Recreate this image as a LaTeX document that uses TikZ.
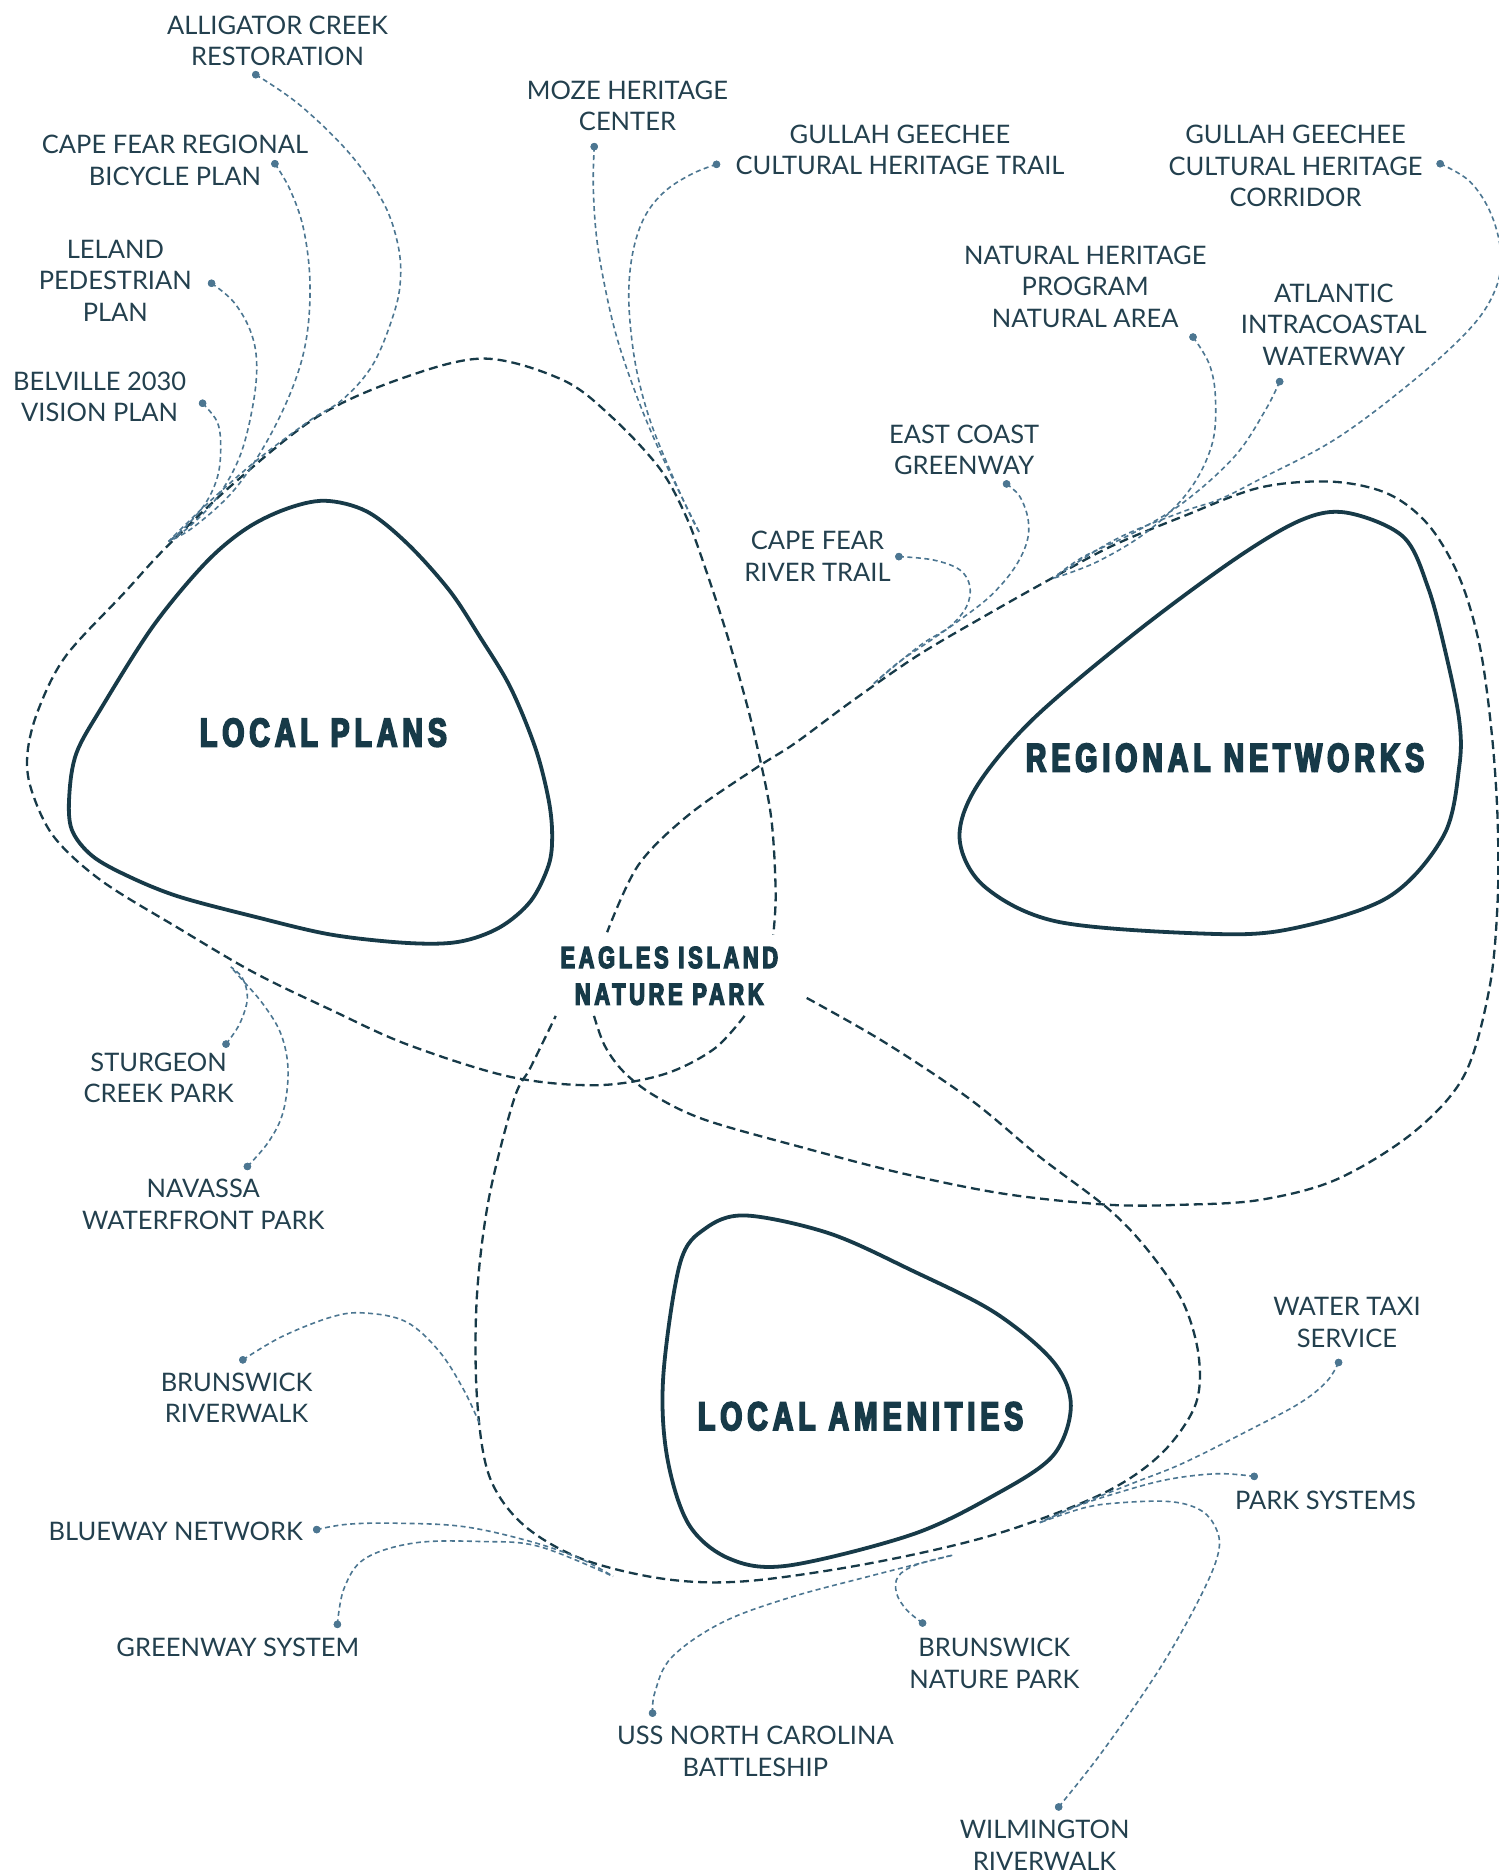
\documentclass[tikz,border=0pt]{standalone}
\usepackage{fontspec}
\setmainfont{Lato}
\newfontfamily\titlefont{Liberation Sans Bold}[FakeStretch=0.71,LetterSpace=12.5,FakeBold=4.5]
\definecolor{ink}{RGB}{23,58,72}
\definecolor{labelc}{RGB}{35,64,78}
\definecolor{linkc}{RGB}{76,118,145}
\tikzset{
  blob/.style={draw=ink, line width=3.8pt, line join=round},
  loopline/.style={draw=ink, line width=2.3pt, dash pattern=on 9pt off 5pt},
  link/.style={draw=linkc, line width=1.6pt, dash pattern=on 5pt off 3.5pt},
  pin/.style={circle, fill=linkc, inner sep=0pt, minimum size=7.5pt},
  lbl/.style={font=\fontsize{25.5}{31.6}\selectfont, text=labelc, align=center, inner sep=0pt},
  ttl/.style={font=\titlefont\fontsize{40}{46}\selectfont, text=ink, inner sep=0pt},
  ttlsmall/.style={font=\titlefont\fontsize{30.5}{36.7}\selectfont, text=ink, align=center, inner sep=0pt},
}
\begin{document}
\begin{tikzpicture}[x=1.1954pt, y=-1.1954pt]
\useasboundingbox (0,0) rectangle (1254,1568);

% ---------- core blobs ----------
\draw[blob] plot[smooth cycle, tension=0.55] coordinates {
  (272,419) (307,428) (341,455) (376,494) (401,532) (427,575) (448,626)
  (459,669) (462,699) (459,724) (444,754) (418,776) (384,788) (341,789)
  (277,782) (213,767) (149,750) (107,733) (77,716) (60,694) (58,665)
  (64,630) (85,592) (128,524) (171,472) (205,443) (239,426)};
\draw[blob] plot[smooth cycle, tension=0.55] coordinates {
  (1127,429) (1174,449) (1195,492) (1210,548) (1221,603) (1221,641)
  (1208,699) (1161,751) (1076,778) (1003,781) (884,771) (824,742)
  (803,703) (816,660) (863,603) (948,531) (1033,468) (1089,435)};
\draw[blob] plot[smooth cycle, tension=0.55] coordinates {
  (624,1017) (694,1032) (763,1063) (832,1098) (881,1139) (896,1176)
  (881,1218) (832,1251) (763,1284) (659,1310) (610,1304) (576,1275)
  (558,1218) (555,1151) (569,1057) (590,1028)};

% ---------- titles ----------
\node[ttl] (tLocal) at (270.6,613) {LOCAL PLANS};
\node[ttl] (tRegional) at (1025,634) {REGIONAL NETWORKS};
\node[ttl] (tAmenities) at (720,1185) {LOCAL AMENITIES};
\node[ttlsmall] (tEagles) at (560,816.5) {EAGLES ISLAND\\NATURE PARK};

% ---------- dashed loops around the park ----------
\draw[loopline] plot[smooth, tension=0.55] coordinates {
  (623,850) (597,878) (555,899) (499,908) (427,901) (341,874) (277,845)
  (213,814) (150,777) (85,737) (45,700) (26,660) (23,630) (32,594)
  (55,549) (104,496) (139,458) (195,405) (265,349) (335,317) (405,300)
  (471,318) (512,349) (552,392) (574,432) (590,475) (608,530) (621,575)
  (632,618) (645,682) (649,746) (647,782)};
\draw[loopline] plot[smooth, tension=0.55] coordinates {
  (497,850) (506,875) (522,897) (548,917) (590,937) (671,960) (756,982)
  (841,999) (927,1008) (990,1008) (1054,1004) (1118,987) (1182,948)
  (1225,900) (1246,828) (1253,756) (1253,684) (1248,612) (1238,540)
  (1221,483) (1195,439) (1161,413) (1114,403) (1054,408) (990,432)
  (930,457) (878,485) (823,516) (767,549) (711,588) (665,622) (632,643)
  (576,682) (534,724) (508,780)};
\draw[loopline] plot[smooth, tension=0.55] coordinates {
  (675,835) (740,872) (812,920) (870,968) (928,1012) (962,1048)
  (990,1090) (1003,1135) (1000,1176) (971,1217) (922,1250) (832,1284)
  (728,1308) (624,1323) (555,1321) (486,1304) (437,1275) (409,1234)
  (399,1168) (399,1085) (409,1003) (430,920) (444,893) (465,850)};

% ---------- where the links meet the loops ----------
\coordinate (jNW) at (141,453);
\coordinate (jTop) at (586,447);
\coordinate (jNE) at (881,484);
\coordinate (jMid) at (731,572);
\coordinate (jSW) at (193,809);
\coordinate (jRiver) at (402,1193);
\coordinate (jWest) at (513,1319);
\coordinate (jEast) at (870,1274);
\coordinate (jSouth) at (798,1301);

% ---------- label pins ----------
\node[pin] (pAlligator) at (214,62.5) {};
\node[pin] (pBicycle) at (230,137) {};
\node[pin] (pLeland) at (177,237) {};
\node[pin] (pBelville) at (169.5,337.4) {};
\node[pin] (pMoze) at (497.2,122.7) {};
\node[pin] (pTrail) at (599.5,137.5) {};
\node[pin] (pCorridor) at (1205,137) {};
\node[pin] (pNatural) at (998.2,282) {};
\node[pin] (pAtlantic) at (1070.7,319.3) {};
\node[pin] (pEastCoast) at (842.2,404.9) {};
\node[pin] (pRiverTrail) at (752.1,465.7) {};
\node[pin] (pSturgeon) at (189.1,873.6) {};
\node[pin] (pNavassa) at (207,976) {};
\node[pin] (pBrRiver) at (203.2,1137.8) {};
\node[pin] (pBlueway) at (265,1279.8) {};
\node[pin] (pGreenway) at (282.3,1359.1) {};
\node[pin] (pTaxi) at (1120,1140) {};
\node[pin] (pParks) at (1049.4,1235.3) {};
\node[pin] (pBrNature) at (771.9,1358) {};
\node[pin] (pUSS) at (546,1433.4) {};
\node[pin] (pWilm) at (885.8,1511.9) {};

% ---------- links ----------
\draw[link] plot[smooth, tension=0.6] coordinates {(pAlligator.center) (251,88) (293,129)
  (321,170) (333,205) (335,235) (329,264) (312,305) (287,334) (259,352)
  (215,385) (175,420) (jNW)};
\draw[link] plot[smooth, tension=0.6] coordinates {(pBicycle.center) (242.6,158.5)
  (253.8,190.7) (259.3,234.7) (256.6,281.7) (245.4,322.8) (223.1,369.7)
  (195.2,410.8) (162,441) (jNW)};
\draw[link] plot[smooth, tension=0.6] coordinates {(pLeland.center) (195.2,252.3)
  (209.1,275.8) (214.7,302.2) (211.9,337.4) (200.8,381.5) (181.3,416.7)
  (158,441) (jNW)};
\draw[link] plot[smooth, tension=0.6] coordinates {(pBelville.center) (181.3,352.1)
  (184.6,369.7) (182.7,396.1) (172.9,419.6) (156,440) (jNW)};
\draw[link] plot[smooth, tension=0.6] coordinates {(pMoze.center) (496.4,156.2)
  (499.1,198) (506.1,239.8) (515.9,281.6) (529.8,323.5) (546.5,365.3)
  (566.1,407.1) (jTop)};
\draw[link] plot[smooth, tension=0.6] coordinates {(pTrail.center) (580,145)
  (557.7,158.9) (541,178.5) (531.2,203.6) (526.5,234.2) (527,267.7)
  (532.6,309.5) (543.8,351.4) (560.5,393.2) (578,432) (jTop)};
\draw[link] plot[smooth, tension=0.6] coordinates {(pCorridor.center) (1230,152)
  (1248,180) (1256,215) (1250,245) (1229,276) (1182,319) (1118,367)
  (1054,401) (1020,418) (990,428) (934,451) (jNE)};
\draw[link] plot[smooth, tension=0.6] coordinates {(pNatural.center) (1011.9,304.9)
  (1017,333.7) (1014,372.1) (994.8,410.6) (960.7,444.2) (918.1,470) (jNE)};
\draw[link] plot[smooth, tension=0.6] coordinates {(pAtlantic.center) (1058.7,343.3)
  (1033.2,381.7) (990.5,420.2) (948.1,446) (906.3,466) (jNE)};
\draw[link] plot[smooth, tension=0.6] coordinates {(pEastCoast.center) (853.3,415.5)
  (860.3,435) (858.9,454.5) (847.7,476.8) (828.2,499.1) (803.1,518.7)
  (775.2,538.2) (752,554) (jMid)};
\draw[link] plot[smooth, tension=0.6] coordinates {(pRiverTrail.center) (780.8,468.5)
  (803.1,476.8) (811.5,490.8) (808.7,507.5) (794.8,524.2) (772.4,538.2)
  (750,556) (jMid)};
\draw[link] plot[smooth, tension=0.6] coordinates {(pSturgeon.center) (200.6,856.5)
  (207,835.2) (202.7,818.1) (jSW)};
\draw[link] plot[smooth, tension=0.6] coordinates {(pNavassa.center) (225,955)
  (237,930) (241,895) (235,865) (220,840) (201,818) (jSW)};
\draw[link] plot[smooth, tension=0.6] coordinates {(pBrRiver.center) (235.8,1118.4)
  (277.5,1101.9) (305.2,1098.6) (339.9,1106) (367.6,1130.8) (388.5,1163.8)
  (jRiver)};
\draw[link] plot[smooth, tension=0.6] coordinates {(pBlueway.center) (291.3,1275.3)
  (333,1274.5) (388.5,1277.4) (444,1289.8) (485.6,1304.2) (jWest)};
\draw[link] plot[smooth, tension=0.6] coordinates {(pGreenway.center) (287.9,1329)
  (305.2,1304.2) (346.8,1291) (402.3,1289.8) (450.9,1293.9) (jWest)};
\draw[link] plot[smooth, tension=0.6] coordinates {(pTaxi.center) (1110,1156)
  (1087.5,1174) (1045.7,1196.3) (990,1224.2) (948.1,1240.9) (906.3,1257.6)
  (jEast)};
\draw[link] plot[smooth, tension=0.6] coordinates {(pParks.center) (1017.9,1233.1)
  (976,1238.1) (934.2,1249.3) (900.7,1260.4) (jEast)};
\draw[link] plot[smooth, tension=0.6] coordinates {(pWilm.center) (922.6,1465.2)
  (971.1,1395) (1005.8,1333.1) (1020,1296) (1015.1,1274.4) (1001.1,1261.8)
  (976,1256.2) (934.2,1257.6) (906.3,1261.8) (jEast)};
\draw[link] plot[smooth, tension=0.6] coordinates {(pBrNature.center) (758.5,1346.9)
  (750.1,1332.9) (751.5,1319) (766.9,1309.2) (jSouth)};
\draw[link] plot[smooth, tension=0.6] coordinates {(pUSS.center) (548,1415.7)
  (561.9,1386.8) (603.5,1357.9) (659,1337.2) (728.4,1318.6) (jSouth)};

% pins sit on top of the link ends
\foreach \p in {pAlligator,pBicycle,pLeland,pBelville,pMoze,pTrail,pCorridor,
  pNatural,pAtlantic,pEastCoast,pRiverTrail,pSturgeon,pNavassa,pBrRiver,
  pBlueway,pGreenway,pTaxi,pParks,pBrNature,pUSS,pWilm}
  \fill[linkc] (\p.center) circle[radius=3.75pt];

% ---------- labels ----------
\node[lbl] (lAlligator) at (232.2,34.2) {ALLIGATOR CREEK\\RESTORATION};
\node[lbl] (lBicycle) at (146.4,134) {CAPE FEAR REGIONAL\\BICYCLE PLAN};
\node[lbl] (lLeland) at (96.5,234.9) {LELAND\\PEDESTRIAN\\PLAN};
\node[lbl] (lBelville) at (83.4,331.9) {BELVILLE 2030\\VISION PLAN};
\node[lbl] (lMoze) at (525,88.5) {MOZE HERITAGE\\CENTER};
\node[lbl] (lTrail) at (753,125.5) {GULLAH GEECHEE\\CULTURAL HERITAGE TRAIL};
\node[lbl] (lCorridor) at (1084,139) {GULLAH GEECHEE\\CULTURAL HERITAGE\\CORRIDOR};
\node[lbl] (lNatural) at (908,240) {NATURAL HERITAGE\\PROGRAM\\NATURAL AREA};
\node[lbl] (lAtlantic) at (1116,271.5) {ATLANTIC\\INTRACOASTAL\\WATERWAY};
\node[lbl] (lEastCoast) at (806.7,376.5) {EAST COAST\\GREENWAY};
\node[lbl] (lRiverTrail) at (684,465.5) {CAPE FEAR\\RIVER TRAIL};
\node[lbl] (lSturgeon) at (132.7,902) {STURGEON\\CREEK PARK};
\node[lbl] (lNavassa) at (170,1007.5) {NAVASSA\\WATERFRONT PARK};
\node[lbl] (lBrRiver) at (198,1169.5) {BRUNSWICK\\RIVERWALK};
\node[lbl] (lBlueway) at (147,1281) {BLUEWAY NETWORK};
\node[lbl] (lGreenway) at (199,1378) {GREENWAY SYSTEM};
\node[lbl] (lTaxi) at (1127,1106.5) {WATER TAXI\\SERVICE};
\node[lbl] (lParks) at (1109,1255) {PARK SYSTEMS};
\node[lbl] (lBrNature) at (832,1391.5) {BRUNSWICK\\NATURE PARK};
\node[lbl] (lUSS) at (632,1465.5) {USS NORTH CAROLINA\\BATTLESHIP};
\node[lbl] (lWilm) at (874,1544) {WILMINGTON\\RIVERWALK};
\end{tikzpicture}
\end{document}
